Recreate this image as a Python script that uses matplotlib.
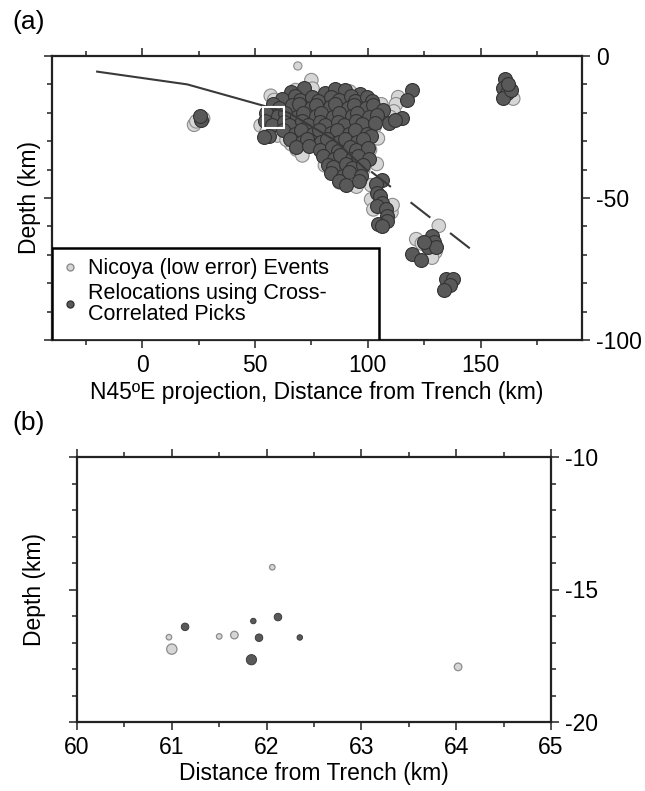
import numpy as np
import matplotlib
matplotlib.use("Agg")
import matplotlib.pyplot as plt
from matplotlib.ticker import MultipleLocator
from matplotlib.patches import Rectangle
from matplotlib.lines import Line2D

plt.rcParams['font.family'] = ['Liberation Sans', 'DejaVu Sans']
plt.rcParams['axes.unicode_minus'] = False

# ---- panel (a) data: distance from trench (km), depth (km) ----
nicoya_x = [69, 75, 75.5, 68, 88, 92, 57, 113.5, 112.5, 111.5, 110, 106,
            52.5, 55, 60, 63.5, 66, 68.5, 71, 100, 101, 103, 104, 81, 87.5,
            95, 101.5, 101.5, 102.5, 110.5, 111, 131.5, 121.5, 124, 130,
            128.5, 23, 24, 27, 164.5, 58.5, 64, 104.5, 98]
nicoya_z = [-3.5, -8.5, -11.5, -12, -12.5, -12.5, -14, -14.5, -17, -19.5,
            -21.5, -17, -24.5, -27, -28, -26, -31, -33, -35, -29.5, -33,
            -25, -38, -38.5, -44.5, -46, -45.5, -50.5, -54, -55, -52.5,
            -59.8, -64.5, -66, -69, -71, -24.2, -23, -22, -15, -15.5, -29.5,
            -29, -40]
nicoya_size = [1, 2, 2, 2, 2, 2, 2, 2, 2, 2, 2, 2, 2, 2, 2, 2, 2, 2, 2, 2, 2,
               2, 2, 2, 2, 2, 2, 2, 2, 2, 2, 2, 2, 2, 2, 2, 2, 2, 2, 2, 2, 2,
               2, 2]

reloc_x = [66.0, 71.8, 80.9, 85.4, 89.8, 96.6,
           62.1, 67.7, 70.1, 75.2, 78.0, 83.9, 87.1, 92.4, 94.3, 99.8, 102.0,
           57.9, 60.8, 66.6, 69.3, 74.8, 77.2, 83.1, 85.7, 91.3, 93.8, 99.2, 102.4, 106.6,
           55.0, 60.2, 63.3, 68.7, 71.4, 76.9, 79.3, 84.8, 87.2, 92.9, 95.4, 100.6, 104.0,
           54.6, 57.4, 62.8, 65.2, 70.7, 73.3, 78.8, 81.2, 86.9, 89.3, 94.7, 97.4, 103.1,
           56.4, 62.4, 67.9, 70.3, 75.8, 78.2, 83.8, 86.3, 91.9, 94.4, 99.8, 101.5,
           65.4, 70.8, 73.2, 79.1, 81.9, 87.3, 89.8, 95.2, 98.0,
           68.4, 73.8, 79.0, 84.2, 86.8, 92.2, 94.9, 100.2,
           80.0, 85.2, 87.8, 93.1, 95.8, 100.6,
           82.2, 84.8, 90.3, 92.8, 98.1,
           83.8, 89.1, 91.9, 97.2,
           87.2, 90.4, 96.1,
           119.8, 117.4, 115, 109.5, 112, 53.8,
           106.3, 103.5, 104, 105.5, 106.3, 104, 107.9, 108.7, 108.7, 104.7, 106.5,
           119.8, 123.7, 128.5, 129.3, 126.9, 130.1, 125,
           134.8, 138, 136.4, 134,
           161, 160.1, 161.7, 160.1, 163.3, 162,
           26, 25.5]
reloc_z = [-12.6, -11.4, -12.9, -11.6, -12.1, -13.3,
           -15.3, -14.0, -15.6, -14.3, -15.8, -14.4, -15.5, -14.2, -15.7, -14.6, -16.0,
           -17.0, -18.3, -17.4, -16.8, -18.4, -17.1, -18.1, -16.9, -18.3, -17.1, -18.4, -17.2, -19.0,
           -20.1, -21.3, -20.0, -21.4, -20.2, -21.2, -20.0, -21.4, -20.1, -21.3, -20.0, -21.4, -20.9,
           -23.0, -24.3, -23.2, -24.4, -23.0, -24.2, -23.1, -24.4, -23.2, -24.3, -23.0, -24.1, -23.6,
           -28.0, -26.1, -27.3, -26.0, -27.4, -26.2, -27.2, -26.0, -27.3, -26.1, -27.4, -28.0,
           -29.1, -30.3, -29.2, -30.4, -29.1, -30.3, -29.2, -30.4, -29.3,
           -32.0, -31.8, -33.2, -32.1, -33.3, -32.0, -33.2, -32.3,
           -35.1, -36.3, -35.0, -36.2, -35.2, -36.4,
           -38.3, -39.0, -38.0, -39.3, -38.5,
           -41.1, -42.3, -41.0, -42.2,
           -44.0, -45.3, -44.1,
           -12, -15.5, -21.9, -23.7, -22.5, -28.5,
           -43.5, -45, -48.1, -49.3, -51.6, -52.8, -54, -56.3, -58, -59.2, -60,
           -69.7, -72, -63.3, -65.6, -67.4, -67.4, -65.5,
           -78.4, -78.4, -80.8, -82.5,
           -8, -11.4, -13.2, -14.9, -12.0, -10,
           -22.5, -21.2]

# slab interface
slab_x = [-20, 20, 65, 85, 100]
slab_z = [-5.5, -10, -20, -29.5, -40.5]
slab_dash_x = [101.5, 146.5]
slab_dash_z = [-40.7, -68.5]

# ---- panel (b) data ----
b_nicoya_x = [62.06, 60.97, 61.00, 61.50, 61.66, 64.02]
b_nicoya_z = [-14.16, -16.80, -17.25, -16.77, -16.72, -17.92]
b_nicoya_size = [1, 1, 3, 1, 2, 2]
b_reloc_x = [61.14, 61.86, 62.12, 61.92, 62.35, 61.84]
b_reloc_z = [-16.41, -16.19, -16.04, -16.82, -16.81, -17.65]
b_reloc_size = [2, 1, 2, 2, 1, 3]

light_face, light_edge = '#d6d6d6', '#8c8c8c'
dark_face, dark_edge = '#595959', '#333333'

fig = plt.figure(figsize=(6.45, 7.91), dpi=100)
ax1 = fig.add_axes([52 / 645, 1 - 340 / 791, 530 / 645, 284 / 791])
ax2 = fig.add_axes([77 / 645, 1 - 722 / 791, 474 / 645, 265 / 791])

size_map_a = {1: 35, 2: 95}
ax1.scatter(nicoya_x, nicoya_z, s=[size_map_a[v] for v in nicoya_size],
            c=light_face, edgecolors=light_edge, linewidths=0.8, zorder=2)
ax1.scatter(reloc_x, reloc_z, s=100, c=dark_face, edgecolors=dark_edge,
            linewidths=0.8, zorder=3)
ax1.plot(slab_x, slab_z, color='#3a3a3a', lw=1.5, zorder=4)
ax1.plot(slab_dash_x, slab_dash_z, color='#3a3a3a', lw=1.5,
         linestyle=(0, (12, 12)), zorder=4)
ax1.add_patch(Rectangle((53.4, -25.5), 9.5, 7.7, fill=False,
                        edgecolor='white', lw=1.5, zorder=5))

ax1.set_xlim(-40, 195)
ax1.set_ylim(-100, 0)
ax1.xaxis.set_major_locator(MultipleLocator(50))
ax1.xaxis.set_minor_locator(MultipleLocator(25))
ax1.yaxis.set_major_locator(MultipleLocator(50))
ax1.yaxis.set_minor_locator(MultipleLocator(10))

# legend box
ax1.add_patch(Rectangle((0, 0), 327 / 530, 92 / 284, transform=ax1.transAxes,
                        fill=True, facecolor='white', edgecolor='black',
                        lw=1.8, zorder=6))
handles = [
    Line2D([], [], marker='o', ls='', markersize=5, markerfacecolor=light_face,
           markeredgecolor=light_edge),
    Line2D([], [], marker='o', ls='', markersize=5, markerfacecolor=dark_face,
           markeredgecolor=dark_edge),
]
leg = ax1.legend(handles, ['Nicoya (low error) Events',
                           'Relocations using Cross-\nCorrelated Picks'],
                 loc='upper left', bbox_to_anchor=(0.0, 0.315), frameon=False,
                 fontsize=15.5, handlelength=1.0, handletextpad=0.3,
                 labelspacing=0.2, borderpad=0.15, borderaxespad=0.2)
leg.set_zorder(7)
for t in leg.get_texts():
    t.set_linespacing(0.95)

ax1.set_xlabel('N45ºE projection, Distance from Trench (km)', fontsize=16.5)
ax1.xaxis.set_label_coords(0.5, -0.145)
ax1.set_ylabel('Depth (km)', fontsize=16.5)
ax1.yaxis.set_label_coords(-0.02, 0.5)

# panel (b)
size_map_b = {1: 16, 2: 30, 3: 55}
ax2.scatter(b_nicoya_x, b_nicoya_z, s=[size_map_b[v] for v in b_nicoya_size],
            c=light_face, edgecolors=light_edge, linewidths=0.9, zorder=2)
ax2.scatter(b_reloc_x, b_reloc_z, s=[size_map_b[v] for v in b_reloc_size],
            c=dark_face, edgecolors=dark_edge, linewidths=0.6, zorder=3)
ax2.set_xlim(60, 65)
ax2.set_ylim(-20, -10)
ax2.xaxis.set_major_locator(MultipleLocator(1))
ax2.xaxis.set_minor_locator(MultipleLocator(0.5))
ax2.yaxis.set_major_locator(MultipleLocator(5))
ax2.yaxis.set_minor_locator(MultipleLocator(1))
ax2.set_xlabel('Distance from Trench (km)', fontsize=16.5)
ax2.xaxis.set_label_coords(0.5, -0.15)
ax2.set_ylabel('Depth (km)', fontsize=16.5)
ax2.yaxis.set_label_coords(-0.066, 0.5)

for ax in (ax1, ax2):
    for sp in ax.spines.values():
        sp.set_linewidth(1.6)
        sp.set_color('#222222')
    ax.tick_params(which='both', direction='out', top=True, right=True,
                   left=True, bottom=True, labelleft=False, labelright=True,
                   labelbottom=True, labeltop=False, width=1.1,
                   colors='#222222', labelsize=16.5, labelcolor='black')
    ax.tick_params(which='major', length=6, pad=4)
    ax.tick_params(which='minor', length=3.5)

fig.text(12 / 645, 1 - 22 / 791, '(a)', fontsize=19, va='center', ha='left')
fig.text(12 / 645, 1 - 423 / 791, '(b)', fontsize=19, va='center', ha='left')

fig.savefig('out.png', dpi=100)
